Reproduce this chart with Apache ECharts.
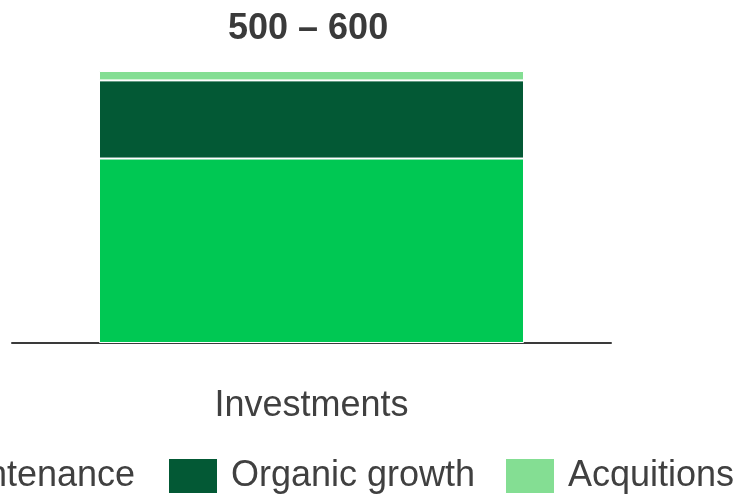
<!DOCTYPE html>
<html>
<head>
<meta charset="utf-8">
<script src="https://cdn.jsdelivr.net/npm/echarts@6/dist/echarts.min.js"></script>
<style>
html,body{margin:0;padding:0;background:#fff;}
#chart{width:741px;height:496px;}
</style>
</head>
<body>
<div id="chart"></div>
<script>
var categories = ['Investments'];
var seriesNames = ['Maintenance', 'Organic growth', 'Acquitions'];
var maintenance = [373];
var organicGrowth = [158];
var acquisitions = [19];
var titleText = '500 – 600';

var colors = ['#00C853', '#035935', '#84DE93'];
var font = '"Liberation Sans", Arial, sans-serif';

var chart = echarts.init(document.getElementById('chart'), null, {renderer: 'canvas'});

function legendItem(name, left) {
  return {
    data: [name],
    left: left,
    top: 457,
    width: 600,
    padding: 0,
    itemWidth: 50,
    itemHeight: 36,
    icon: 'rect',
    selectedMode: false,
    textStyle: {fontFamily: font, fontSize: 36, color: '#404040', padding: [0, 0, 0, 8]}
  };
}

chart.setOption({
  animation: false,
  title: {
    text: titleText,
    left: 228,
    top: 11,
    padding: 0,
    textStyle: {fontFamily: font, fontSize: 36, fontWeight: 'bold', color: '#3a3a3a'}
  },
  legend: [
    legendItem(seriesNames[0], -135),
    legendItem(seriesNames[1], 167),
    legendItem(seriesNames[2], 504)
  ],
  grid: {left: 12, right: 130, top: 71, bottom: 153, containLabel: false},
  xAxis: {
    type: 'category',
    data: categories,
    axisLine: {show: true, lineStyle: {color: '#3a3a3a', width: 2}},
    axisTick: {show: false},
    axisLabel: {fontFamily: font, fontSize: 36, color: '#404040', margin: 45}
  },
  yAxis: {
    type: 'value',
    min: 0,
    max: 550,
    show: false,
    splitLine: {show: false}
  },
  series: [
    {name: seriesNames[0], type: 'bar', stack: 'total', data: maintenance, barWidth: 425,
     itemStyle: {color: colors[0], borderColor: '#fff', borderWidth: 1}},
    {name: seriesNames[1], type: 'bar', stack: 'total', data: organicGrowth, barWidth: 425,
     itemStyle: {color: colors[1], borderColor: '#fff', borderWidth: 1}},
    {name: seriesNames[2], type: 'bar', stack: 'total', data: acquisitions, barWidth: 425,
     itemStyle: {color: colors[2], borderColor: '#fff', borderWidth: 1}}
  ]
});
</script>
</body>
</html>
